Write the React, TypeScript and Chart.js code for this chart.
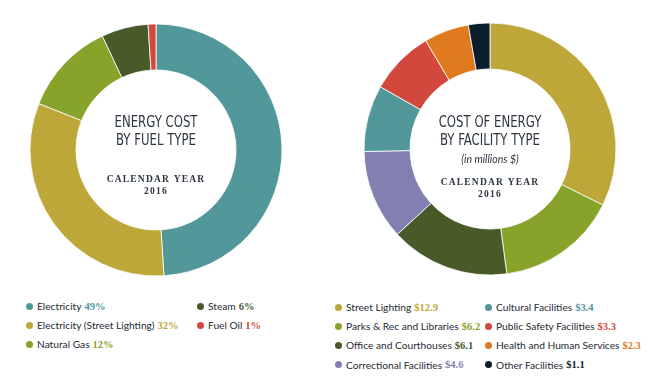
import React, { useEffect, useRef } from "react";
import { Chart, registerables } from "chart.js";
Chart.register(...registerables);

const fuelLabels = ["Electricity", "Electricity (Street Lighting)", "Natural Gas", "Steam", "Fuel Oil"];
const fuelShares = [49, 32, 12, 6, 1];
const fuelColors = ["#52979a", "#bda738", "#87a32a", "#485a28", "#d2483c"];

const facilityLabels = [
  "Street Lighting",
  "Parks & Rec and Libraries",
  "Office and Courthouses",
  "Correctional Facilities",
  "Cultural Facilities",
  "Public Safety Facilities",
  "Health and Human Services",
  "Other Facilities",
];
const facilityCosts = [12.9, 6.2, 6.1, 4.6, 3.4, 3.3, 2.3, 1.1];
const facilityColors = ["#bda738", "#87a32a", "#485a28", "#8180b0", "#52979a", "#d2483c", "#e07a1f", "#0c1e2e"];

const fuelTitle = ["ENERGY COST", "BY FUEL TYPE"];
const facilityTitle = ["COST OF ENERGY", "BY FACILITY TYPE"];
const facilitySubtitle = "(in millions $)";
const yearLines = ["CALENDAR YEAR", "2016"];

const SANS_COND = "'Liberation Sans Narrow', 'DejaVu Sans Condensed', 'Roboto Condensed', sans-serif";
const SERIF = "'Liberation Serif', 'DejaVu Serif', serif";
const SANS = "Lato, 'Noto Sans', sans-serif";
const TEXT = "#2c3540";

type Line = { text: string; font: string; dy: number; spacing?: string; sx?: number };

const centerTextPlugin = {
  id: "centerText",
  afterDraw(chart: any) {
    const lines: Line[] = chart.options.plugins.centerText?.lines || [];
    const arc = chart.getDatasetMeta(0).data[0];
    if (!arc) return;
    const { x, y } = arc;
    const ctx = chart.ctx;
    for (const l of lines) {
      ctx.save();
      ctx.textAlign = "center";
      ctx.textBaseline = "middle";
      ctx.fillStyle = TEXT;
      ctx.font = l.font;
      (ctx as any).letterSpacing = l.spacing || "0px";
      ctx.translate(x, y + l.dy);
      ctx.scale(l.sx || 1, 1);
      ctx.fillText(l.text, 0, 0);
      ctx.restore();
    }
  },
};

function Donut({ values, colors, lines, left, top }: { values: number[]; colors: string[]; lines: Line[]; left: number; top: number }) {
  const ref = useRef<HTMLCanvasElement>(null);
  useEffect(() => {
    if (!ref.current) return;
    const chart = new Chart(ref.current, {
      type: "doughnut",
      data: {
        labels: values.map((_, i) => String(i)),
        datasets: [
          {
            data: values,
            backgroundColor: colors,
            borderColor: "#ffffff",
            borderWidth: 0.8,
            radius: 126,
            hoverOffset: 0,
          } as any,
        ],
      },
      options: {
        responsive: false,
        animation: false,
        cutout: "63.5%",
        layout: { padding: 0 },
        events: [],
        plugins: {
          legend: { display: false },
          tooltip: { enabled: false },
          centerText: { lines },
        } as any,
      },
      plugins: [centerTextPlugin],
    });
    return () => chart.destroy();
  }, []);
  return <canvas ref={ref} width={280} height={280} style={{ position: "absolute", left, top, width: 280, height: 280 }} />;
}

function Legend({ labels, colors, values, fmt, rows, left, colX, top }: { labels: string[]; colors: string[]; values: number[]; fmt: (v: number) => string; rows: number; left: number; colX: number[]; top: number }) {
  return (
    <>
      {labels.map((lab, i) => {
        const col = Math.floor(i / rows);
        const row = i % rows;
        return (
          <div
            key={lab}
            style={{
              position: "absolute",
              left: left + colX[col],
              top: top + row * 19.2 - 8,
              height: 16,
              display: "flex",
              alignItems: "center",
              whiteSpace: "nowrap",
              fontFamily: SANS,
              fontSize: 10.2,
              color: "#1e2a33",
            }}
          >
            <span style={{ display: "inline-block", width: 7, height: 7, borderRadius: "50%", background: colors[i], marginRight: 4 }} />
            <span>{lab}</span>
            <span style={{ fontFamily: SERIF, fontWeight: 700, color: colors[i], marginLeft: 3, fontSize: 10.5 }}>{fmt(values[i])}</span>
          </div>
        );
      })}
    </>
  );
}

export default function App() {
  const titleFont = `15.5px ${SANS_COND}`;
  const yearFont = `bold 9.5px ${SERIF}`;
  const fuelLines: Line[] = [
    { text: fuelTitle[0], font: titleFont, dy: -27, sx: 0.84 },
    { text: fuelTitle[1], font: titleFont, dy: -9, sx: 0.84 },
    { text: yearLines[0], font: yearFont, dy: 30, spacing: "1.2px" },
    { text: yearLines[1], font: yearFont, dy: 42, spacing: "1.2px" },
  ];
  const facLines: Line[] = [
    { text: facilityTitle[0], font: titleFont, dy: -26, sx: 0.84 },
    { text: facilityTitle[1], font: titleFont, dy: -8, sx: 0.84 },
    { text: facilitySubtitle, font: `italic 10.5px ${SANS}`, dy: 11 },
    { text: yearLines[0], font: yearFont, dy: 34, spacing: "1.2px" },
    { text: yearLines[1], font: yearFont, dy: 46, spacing: "1.2px" },
  ];
  return (
    <div style={{ position: "fixed", left: 0, top: 0, width: 650, height: 384, background: "#fff", overflow: "hidden" }}>
      <Donut values={fuelShares} colors={fuelColors} lines={fuelLines} left={16} top={10} />
      <Donut values={facilityCosts} colors={facilityColors} lines={facLines} left={350} top={9} />
      <Legend labels={fuelLabels} colors={fuelColors} values={fuelShares} fmt={(v) => `${v}%`} rows={3} left={26} colX={[0, 171]} top={306} />
      <Legend labels={facilityLabels} colors={facilityColors} values={facilityCosts} fmt={(v) => `$${v.toFixed(1)}`} rows={4} left={335} colX={[0, 150]} top={307} />
    </div>
  );
}
